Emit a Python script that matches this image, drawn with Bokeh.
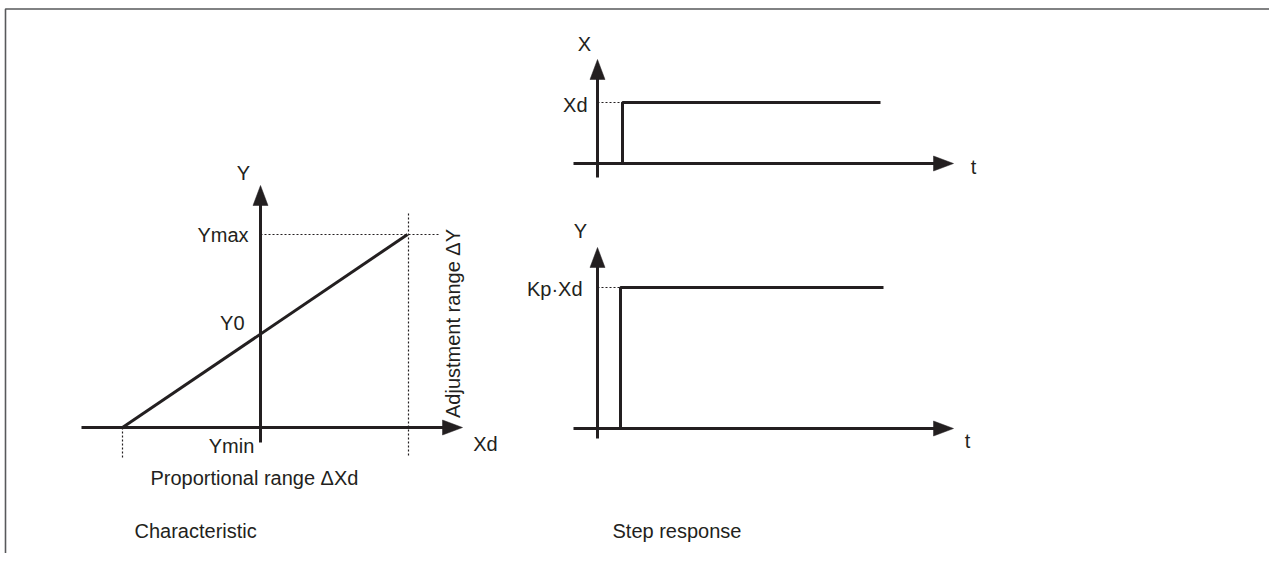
from math import pi
from bokeh.plotting import figure
from bokeh.models import Range1d
from bokeh.core.properties import value
from bokeh.embed import file_html
from bokeh.resources import INLINE

# ---------------- data (diagram coordinates, picture units) ----------------
# Characteristic (left diagram)
char_origin = [260, 427]            # crossing of Xd and Y axes
char_x_axis = [81, 462]             # Xd axis from .. to arrow tip
char_y_axis = [442, 185]            # Y axis from .. to arrow tip
char_line_x = [122, 407]            # proportional characteristic
char_line_y = [427, 234]
char_ymax = 234
char_ymax_guide_x = [260, 438]
char_right_guide_y = [213, 455]
char_left_guide_y = [427, 457]

# Step response, input X (top right)
stepx_origin = [597, 163]
stepx_t_axis = [573, 953]
stepx_v_axis = [177, 59]
stepx_t = [622, 622, 880]
stepx_v = [163, 102, 102]

# Step response, output Y (bottom right)
stepy_origin = [597, 428]
stepy_t_axis = [573, 953]
stepy_v_axis = [438, 247]
stepy_t = [620, 620, 883]
stepy_v = [428, 287, 287]

INK = "#231f20"
FONT = value("Liberation Sans")
FS = "20px"
HEAD_LEN = 20
HEAD_HALF = 7.5

W, H = 1269, 553
p = figure(width=W, height=H, output_backend="svg", toolbar_location=None,
           x_range=Range1d(0, W), y_range=Range1d(H, 0), min_border=0)
p.axis.visible = False
p.grid.visible = False
p.outline_line_color = None
p.background_fill_color = "white"
p.border_fill_color = "white"

# frame border (top and left edges visible)
p.line([5, 5, W], [H, 8.5, 8.5], line_color="#58595b", line_width=1.6)


def h_axis(y, xs):
    x0, tip = xs
    p.line([x0, tip - HEAD_LEN + 2], [y, y], line_color=INK, line_width=3)
    p.patch([tip, tip - HEAD_LEN, tip - HEAD_LEN], [y, y - HEAD_HALF, y + HEAD_HALF],
            fill_color=INK, line_color=INK, line_width=0.5)


def v_axis(x, ys):
    y0, tip = ys
    p.line([x, x], [y0, tip + HEAD_LEN - 2], line_color=INK, line_width=3)
    p.patch([x, x - HEAD_HALF, x + HEAD_HALF], [tip, tip + HEAD_LEN, tip + HEAD_LEN],
            fill_color=INK, line_color=INK, line_width=0.5)


def dotted(xs, ys):
    p.line(xs, ys, line_color=INK, line_width=1.2, line_dash="2 2")


def label(x, y, txt, align="center", angle=0.0):
    p.text(x=[x], y=[y], text=[txt], text_font=FONT, text_font_size=FS,
           text_color=INK, text_align=align, text_baseline="middle", angle=angle)


# ---------------- Characteristic ----------------
h_axis(char_origin[1], char_x_axis)
v_axis(char_origin[0], char_y_axis)
dotted(char_ymax_guide_x, [char_ymax, char_ymax])
dotted([char_line_x[1] + 1, char_line_x[1] + 1], char_right_guide_y)
dotted([char_line_x[0], char_line_x[0]], char_left_guide_y)
p.line(char_line_x, char_line_y, line_color=INK, line_width=3)

label(243, 172, "Y")
label(248, char_ymax, "Ymax", align="right")
label(244, 322, "Y0", align="right")
label(231, 445, "Ymin")
label(485, 443, "Xd")
label(452, 323, "Adjustment range \u0394Y", angle=pi / 2)
label(150, 477, "Proportional range \u0394Xd", align="left")
label(134, 530, "Characteristic", align="left")

# ---------------- Step response: X ----------------
h_axis(stepx_origin[1], stepx_t_axis)
v_axis(stepx_origin[0], stepx_v_axis)
dotted([stepx_origin[0], stepx_t[0]], [stepx_v[1], stepx_v[1]])
p.line(stepx_t, stepx_v, line_color=INK, line_width=3)
label(584, 43, "X")
label(587, 104, "Xd", align="right")
label(973, 166, "t")

# ---------------- Step response: Y ----------------
h_axis(stepy_origin[1], stepy_t_axis)
v_axis(stepy_origin[0], stepy_v_axis)
dotted([stepy_origin[0], stepy_t[0]], [stepy_v[1], stepy_v[1]])
p.line(stepy_t, stepy_v, line_color=INK, line_width=3)
label(580, 230, "Y")
label(582, 288, "Kp\u00b7Xd", align="right")
label(967, 440, "t")

label(612, 530, "Step response", align="left")

open("out.html", "w").write(file_html(p, INLINE))
